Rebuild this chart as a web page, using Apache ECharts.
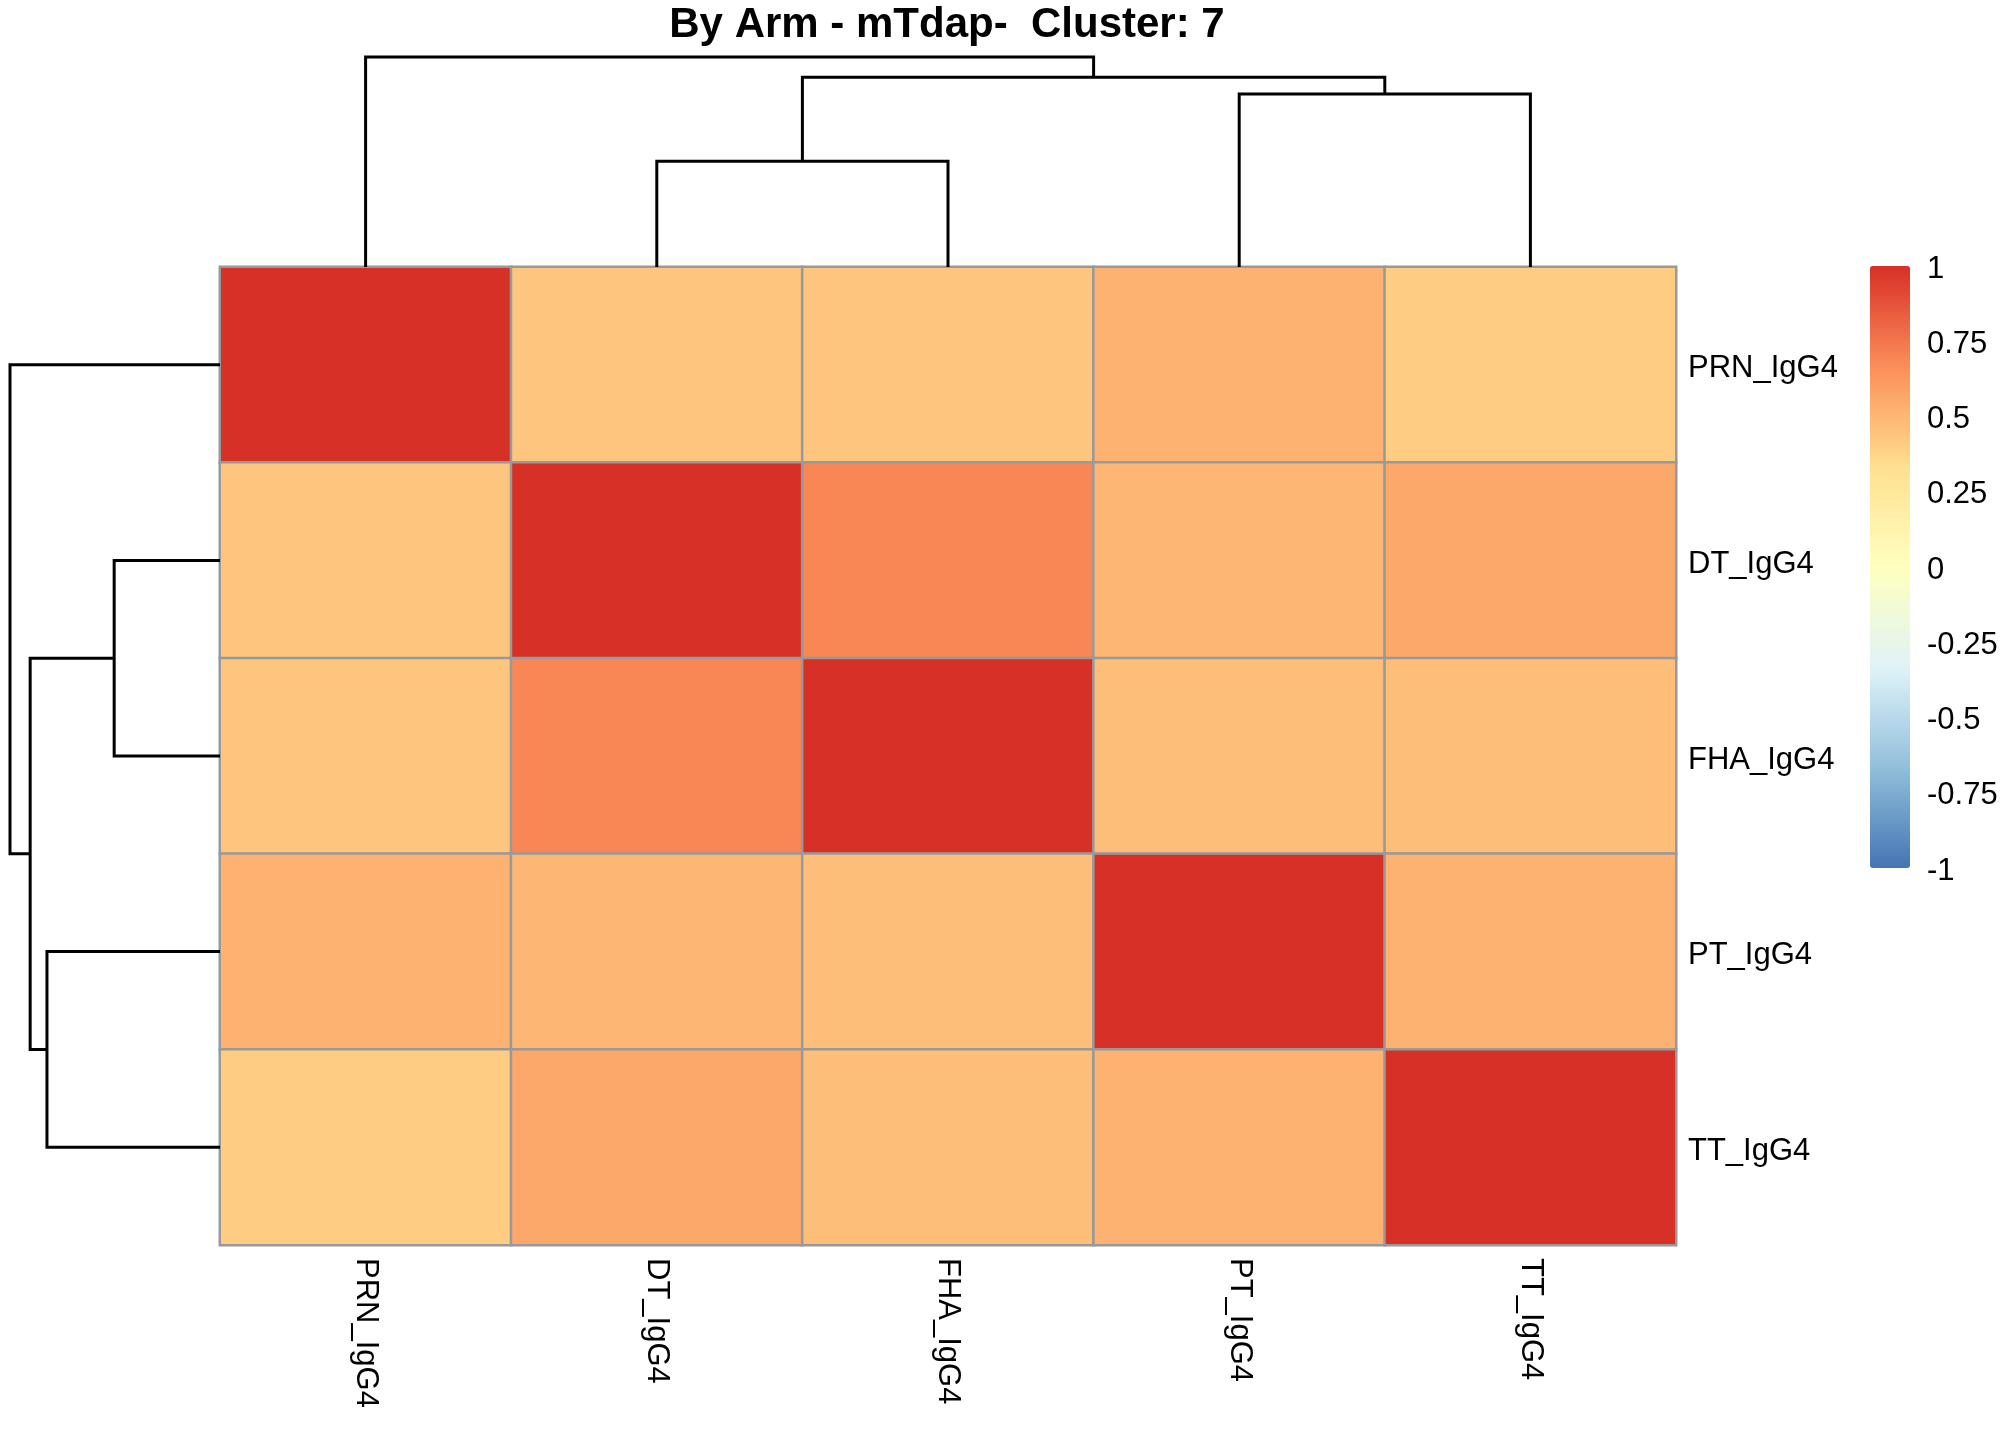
<!DOCTYPE html>
<html>
<head>
<meta charset="utf-8">
<script src="https://cdn.jsdelivr.net/npm/echarts@6/dist/echarts.min.js"></script>
<style>
  html, body { margin: 0; padding: 0; background: #fff; }
  #chart { width: 2016px; height: 1440px; }
</style>
</head>
<body>
<div id="chart"></div>
<script>
// labels (same order for rows and columns, as clustered)
const labels = ['PRN_IgG4', 'DT_IgG4', 'FHA_IgG4', 'PT_IgG4', 'TT_IgG4']

// correlation rows
const rowPRN = [1, 0.44, 0.44, 0.52, 0.41]
const rowDT = [0.44, 1, 0.69, 0.5, 0.56]
const rowFHA = [0.44, 0.69, 1, 0.47, 0.47]
const rowPT = [0.52, 0.5, 0.47, 1, 0.52]
const rowTT = [0.41, 0.56, 0.47, 0.52, 1]

// hclust-style merges (negative = leaf number, positive = earlier merge)
// rows and columns give the same tree
const mergeA = [-2, -4, 1, -1]
const mergeB = [-3, -5, 2, 3]
const mergeHeight = [0.63, 1.03, 1.13, 1.25]

// legend ticks
const legendTicks = [-1, -0.75, -0.5, -0.25, 0, 0.25, 0.5, 0.75, 1]

const palette = ['#4575B4', '#91BFDB', '#E0F3F8', '#FFFFBF', '#FEE090', '#FC8D59', '#D73027']
const font = "'Liberation Sans', Arial, sans-serif"

const rows = [rowPRN, rowDT, rowFHA, rowPT, rowTT]
const cells = []
rows.forEach((r, y) => r.forEach((v, x) => cells.push([x, y, v])))

// dendrogram segments: [posA, hA, posB, hB, h]
const nodePos = []
const nodeH = []
const segs = mergeA.map((a, i) => {
  const b = mergeB[i]
  const pa = a < 0 ? -a - 1 : nodePos[a - 1]
  const pb = b < 0 ? -b - 1 : nodePos[b - 1]
  const ha = a < 0 ? 0 : nodeH[a - 1]
  const hb = b < 0 ? 0 : nodeH[b - 1]
  nodePos.push((pa + pb) / 2)
  nodeH.push(mergeHeight[i])
  return [pa, ha, pb, hb, mergeHeight[i]]
})
const treeMax = mergeHeight[mergeHeight.length - 1]

const lineStyle = { stroke: '#000', lineWidth: 3, fill: null, lineJoin: 'miter' }

const chart = echarts.init(document.getElementById('chart'))
chart.setOption({
  animation: false,
  backgroundColor: '#fff',
  title: {
    text: 'By Arm - mTdap-  Cluster: 7',
    left: 947,
    top: 4,
    padding: 0,
    textAlign: 'center',
    textStyle: { fontFamily: font, fontSize: 42, fontWeight: 'bold', color: '#000' },
  },
  grid: [
    { left: 220, top: 267, width: 1456, height: 978 },
    { left: 220, top: 57, width: 1456, height: 210 },
    { left: 10, top: 267, width: 210, height: 978 },
    { left: 1908, top: 269, width: 1, height: 602 },
  ],
  xAxis: [
    {
      type: 'category',
      gridIndex: 0,
      data: labels,
      position: 'bottom',
      axisLine: { show: false },
      axisTick: { show: false },
      splitLine: { show: false },
      axisLabel: { rotate: -90, margin: 13, fontSize: 31, color: '#000', fontFamily: font, interval: 0 },
    },
    { type: 'value', gridIndex: 1, min: -0.5, max: 4.5, show: false },
    { type: 'value', gridIndex: 2, min: 0, max: treeMax, inverse: true, show: false },
    { type: 'value', gridIndex: 3, min: 0, max: 1, show: false },
  ],
  yAxis: [
    {
      type: 'category',
      gridIndex: 0,
      data: labels,
      inverse: true,
      position: 'right',
      axisLine: { show: false },
      axisTick: { show: false },
      splitLine: { show: false },
      axisLabel: {
        margin: 12,
        fontSize: 31,
        color: '#000',
        fontFamily: font,
        interval: 0,
        // nudge down a few px to sit like the original labels
        formatter: v => '{a|' + v + '}',
        rich: { a: { fontSize: 31, fontFamily: font, color: '#000', padding: [8, 0, 0, 0] } },
      },
    },
    { type: 'value', gridIndex: 1, min: 0, max: treeMax, show: false },
    { type: 'value', gridIndex: 2, min: -0.5, max: 4.5, inverse: true, show: false },
    {
      type: 'value',
      gridIndex: 3,
      position: 'right',
      min: legendTicks[0],
      max: legendTicks[legendTicks.length - 1],
      interval: 0.25,
      axisLine: { show: false },
      axisTick: { show: false },
      splitLine: { show: false },
      axisLabel: { margin: 18, fontSize: 31, color: '#000', fontFamily: font, showMinLabel: true, showMaxLabel: true },
    },
  ],
  visualMap: {
    type: 'continuous',
    seriesIndex: 0,
    min: -1,
    max: 1,
    calculable: false,
    left: 1870,
    top: 266,
    padding: 0,
    itemWidth: 40,
    itemHeight: 602,
    text: null,
    inRange: { color: palette },
  },
  series: [
    {
      type: 'heatmap',
      xAxisIndex: 0,
      yAxisIndex: 0,
      data: cells,
      itemStyle: { borderColor: '#999999', borderWidth: 2.5 },
      emphasis: { disabled: true },
    },
    {
      type: 'custom',
      xAxisIndex: 1,
      yAxisIndex: 1,
      clip: false,
      silent: true,
      data: segs,
      renderItem: (params, api) => ({
        type: 'polyline',
        shape: {
          points: [
            api.coord([api.value(0), api.value(1)]),
            api.coord([api.value(0), api.value(4)]),
            api.coord([api.value(2), api.value(4)]),
            api.coord([api.value(2), api.value(3)]),
          ],
        },
        style: lineStyle,
      }),
    },
    {
      type: 'custom',
      xAxisIndex: 2,
      yAxisIndex: 2,
      clip: false,
      silent: true,
      data: segs,
      renderItem: (params, api) => ({
        type: 'polyline',
        shape: {
          points: [
            api.coord([api.value(1), api.value(0)]),
            api.coord([api.value(4), api.value(0)]),
            api.coord([api.value(4), api.value(2)]),
            api.coord([api.value(3), api.value(2)]),
          ],
        },
        style: lineStyle,
      }),
    },
  ],
})
</script>
</body>
</html>
